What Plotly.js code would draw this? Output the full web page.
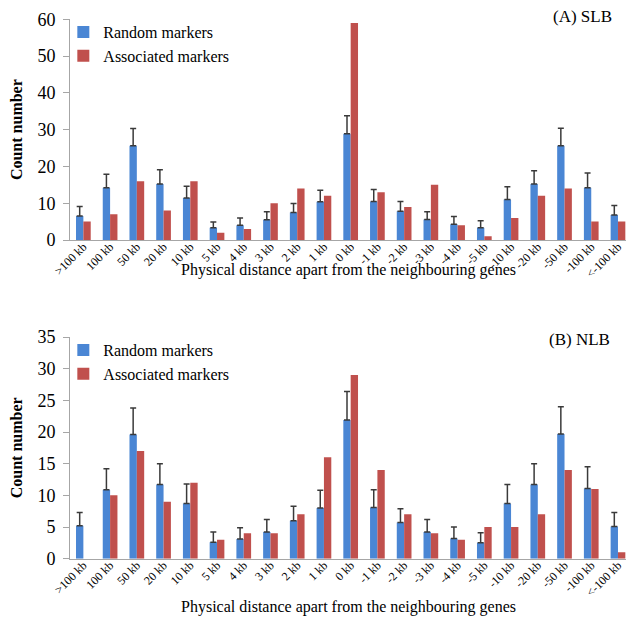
<!DOCTYPE html>
<html>
<head>
<meta charset="utf-8">
<script src="https://cdn.plot.ly/plotly-3.0.1.min.js"></script>
<style>
  html, body { margin: 0; padding: 0; background: #ffffff; }
  #chart { width: 626px; height: 619px; }
</style>
</head>
<body>
<div id="chart"></div>
<script>
// Distance classes of markers relative to the neighbouring genes
const categories = [">100 kb", "100 kb", "50 kb", "20 kb", "10 kb", "5 kb", "4 kb", "3 kb", "2 kb", "1 kb", "0 kb",
  "-1 kb", "-2 kb", "-3 kb", "-4 kb", "-5 kb", "-10 kb", "-20 kb", "-50 kb", "-100 kb", "<-100 kb"];

// (A) SLB
const slbRandom    = [6.5, 14.2, 25.6, 15.2, 11.4, 3.3, 4.0, 5.5, 7.5, 10.4, 28.9, 10.5, 7.8, 5.6, 4.3, 3.3, 11.0, 15.2, 25.6, 14.2, 6.8];
const slbRandomErr = [2.6, 3.7, 4.7, 3.9, 3.2, 1.6, 2.0, 2.2, 2.4, 3.1, 4.9, 3.2, 2.7, 2.1, 2.1, 1.9, 3.5, 3.6, 4.8, 4.0, 2.6];
const slbAssociated = [5, 7, 16, 8, 16, 2, 3, 10, 14, 12, 59, 13, 9, 15, 4, 1, 6, 12, 14, 5, 5];

// (B) NLB
const nlbRandom    = [5.2, 10.9, 19.6, 11.7, 8.7, 2.6, 3.1, 4.2, 6.0, 8.0, 21.9, 8.1, 5.7, 4.2, 3.2, 2.5, 8.7, 11.7, 19.7, 11.1, 5.1];
const nlbRandomErr = [2.1, 3.3, 4.2, 3.3, 3.1, 1.6, 1.8, 2.0, 2.3, 2.8, 4.5, 2.8, 2.2, 2.0, 1.8, 1.6, 3.0, 3.3, 4.3, 3.4, 2.2];
const nlbAssociated = [0, 10, 17, 9, 12, 3, 4, 4, 7, 16, 29, 14, 7, 4, 3, 5, 5, 7, 14, 11, 1];

const seriesNames = ["Random markers", "Associated markers"];
const panelLabels = ["(A) SLB", "(B) NLB"];
const xTitle = "Physical distance apart from the neighbouring genes";
const yTitle = "Count number";

const BLUE = "#4a86d4";
const RED = "#c0504d";
const SERIF = "Liberation Serif";
const zeros = categories.map(() => 0);

function errorBars(arr) {
  return { type: "data", symmetric: false, array: arr, arrayminus: zeros,
           color: "#3a3a3a", thickness: 1.5, width: 3 };
}

const traces = [
  { type: "bar", name: seriesNames[0], x: categories, y: slbRandom, xaxis: "x", yaxis: "y",
    marker: { color: BLUE }, error_y: errorBars(slbRandomErr), legend: "legend" },
  { type: "bar", name: seriesNames[1], x: categories, y: slbAssociated, xaxis: "x", yaxis: "y",
    marker: { color: RED }, legend: "legend" },
  { type: "bar", name: seriesNames[0], x: categories, y: nlbRandom, xaxis: "x2", yaxis: "y2",
    marker: { color: BLUE }, error_y: errorBars(nlbRandomErr), legend: "legend2" },
  { type: "bar", name: seriesNames[1], x: categories, y: nlbAssociated, xaxis: "x2", yaxis: "y2",
    marker: { color: RED }, legend: "legend2" }
];

const H = 619;
const py = v => 1 - v / H;   // pixel row -> paper fraction

const xAxisBase = {
  type: "category", range: [-0.5, 20.3], showline: true, linecolor: "#a6a6a6", linewidth: 1,
  ticks: "", tickangle: -45, tickfont: { family: SERIF, size: 12, color: "#000" }, ticklabelstandoff: -6,
  showgrid: false, zeroline: false, fixedrange: true
};
const yAxisBase = {
  showline: true, linecolor: "#a6a6a6", linewidth: 1, ticks: "outside", ticklen: 6,
  tickcolor: "#a6a6a6", tickfont: { family: SERIF, size: 18, color: "#000" }, ticklabelstandoff: 4,
  showgrid: false, zeroline: false, fixedrange: true,
  title: { text: yTitle, font: { family: SERIF, size: 16, color: "#000", weight: "bold" }, standoff: 10 }
};

const legendBase = {
  xanchor: "left", yanchor: "top", bgcolor: "rgba(0,0,0,0)", borderwidth: 0,
  font: { family: SERIF, size: 16, color: "#000" }, itemclick: false, itemdoubleclick: false
};

const layout = {
  width: 626, height: 619,
  font: { family: SERIF, color: "#000" },
  margin: { l: 70, r: 0, t: 0, b: 0 },
  paper_bgcolor: "#ffffff", plot_bgcolor: "#ffffff",
  barmode: "group", bargap: 0.45, bargroupgap: 0,
  xaxis: Object.assign({}, xAxisBase, { anchor: "y", domain: [0, 1] }),
  yaxis: Object.assign({}, yAxisBase, { anchor: "x", domain: [py(240), py(19.3)], range: [0, 60], dtick: 10 }),
  xaxis2: Object.assign({}, xAxisBase, { anchor: "y2", domain: [0, 1] }),
  yaxis2: Object.assign({}, yAxisBase, { anchor: "x2", domain: [py(558.7), py(337)], range: [0, 35], dtick: 5 }),
  legend: Object.assign({}, legendBase, { x: -0.012, y: py(15) }),
  legend2: Object.assign({}, legendBase, { x: -0.012, y: py(333) }),
  annotations: [
    { text: panelLabels[0], xref: "paper", yref: "paper", x: 0.978, y: py(17), xanchor: "right", yanchor: "middle",
      showarrow: false, font: { family: SERIF, size: 17, color: "#000" } },
    { text: panelLabels[1], xref: "paper", yref: "paper", x: 0.975, y: py(340), xanchor: "right", yanchor: "middle",
      showarrow: false, font: { family: SERIF, size: 17, color: "#000" } },
    { text: xTitle, xref: "paper", yref: "paper", x: 0.5, y: py(270), xanchor: "center", yanchor: "middle",
      showarrow: false, font: { family: SERIF, size: 16, color: "#000" } },
    { text: xTitle, xref: "paper", yref: "paper", x: 0.5, y: py(607), xanchor: "center", yanchor: "middle",
      showarrow: false, font: { family: SERIF, size: 16, color: "#000" } }
  ],
  showlegend: true
};

Plotly.newPlot("chart", traces, layout, { displayModeBar: false, staticPlot: true });
</script>
</body>
</html>
